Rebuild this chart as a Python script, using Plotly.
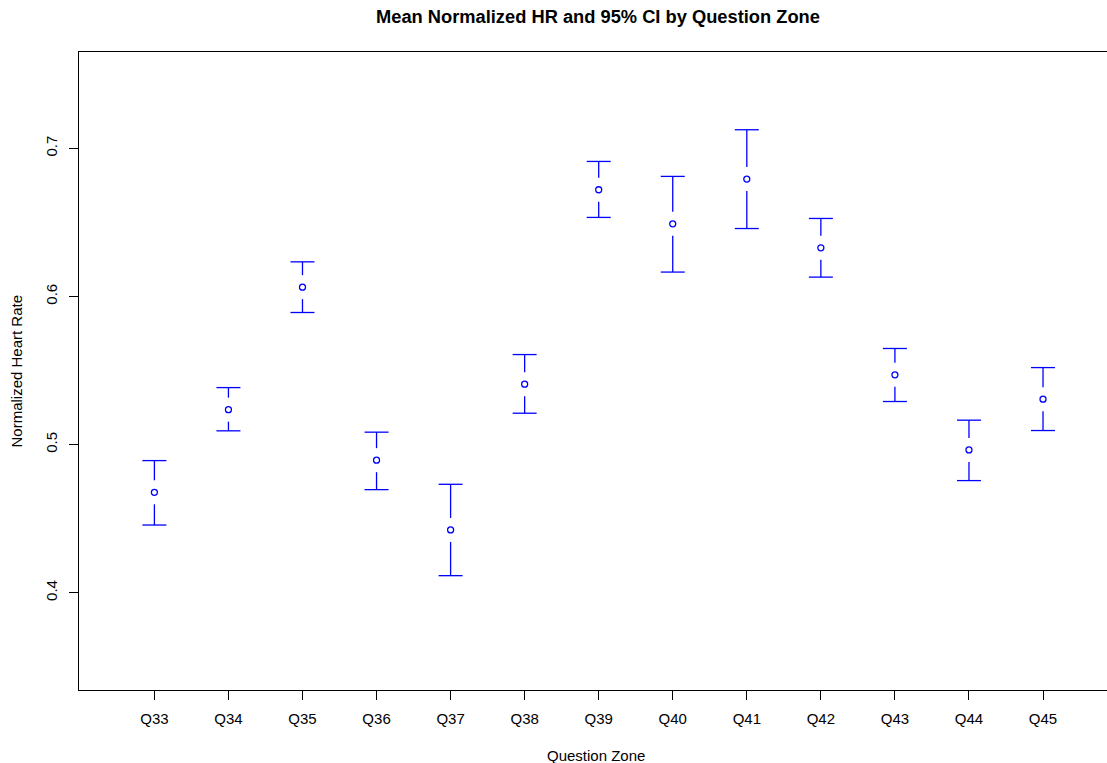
import plotly.graph_objects as go

zones = ["Q33", "Q34", "Q35", "Q36", "Q37", "Q38", "Q39", "Q40", "Q41", "Q42", "Q43", "Q44", "Q45"]
mean_hr = [0.4678, 0.5236, 0.6063, 0.4895, 0.4424, 0.5408, 0.6721, 0.6491, 0.6793, 0.6329, 0.5471, 0.4964, 0.5307]
ci_upper = [0.4892, 0.5385, 0.6234, 0.5084, 0.4732, 0.5608, 0.6912, 0.6811, 0.7126, 0.6527, 0.5649, 0.5165, 0.5520]
ci_lower = [0.4457, 0.5093, 0.5892, 0.4696, 0.4115, 0.5212, 0.6534, 0.6165, 0.6459, 0.6131, 0.5291, 0.4757, 0.5095]
y_ticks = [0.4, 0.5, 0.6, 0.7]

FONT = "Arial, Liberation Sans, sans-serif"
BLUE = "#0000FF"
GAP = 0.0081      # gap between point and CI line (data units)
CAP = 0.162       # half-width of caps (x units)

xs = list(range(len(zones)))
lx, ly = [], []
for i, x in enumerate(xs):
    m, hi, lo = mean_hr[i], ci_upper[i], ci_lower[i]
    lx += [x, x, None, x, x, None, x - CAP, x + CAP, None, x - CAP, x + CAP, None]
    ly += [lo, m - GAP, None, m + GAP, hi, None, hi, hi, None, lo, lo, None]

fig = go.Figure()
fig.add_trace(go.Scatter(x=lx, y=ly, mode="lines",
                         line=dict(color=BLUE, width=1.3),
                         hoverinfo="skip", showlegend=False))
fig.add_trace(go.Scatter(x=xs, y=mean_hr, mode="markers",
                         marker=dict(symbol="circle-open", size=6, color=BLUE,
                                     line=dict(color=BLUE, width=1.3)),
                         showlegend=False))

fig.update_layout(
    width=1107, height=763,
    margin=dict(l=79, r=0, t=52, b=73),
    paper_bgcolor="white", plot_bgcolor="white",
    font=dict(family=FONT, size=15, color="black"),
    xaxis=dict(range=[-1.018, 12.864], tickvals=xs, ticktext=zones,
               showgrid=False, zeroline=False, showline=True, mirror=True,
               linecolor="black", linewidth=1.3, ticks="outside", ticklen=9,
               tickwidth=1.3, tickcolor="black", ticklabelstandoff=6),
    yaxis=dict(range=[0.3343, 0.7651], tickvals=y_ticks,
               ticktext=[f"{v:.1f}" for v in y_ticks], tickangle=-90,
               showgrid=False, zeroline=False, showline=True, mirror=False,
               linecolor="black", linewidth=1.3, ticks="outside", ticklen=9,
               tickwidth=1.3, tickcolor="black", ticklabelstandoff=6),
    annotations=[
        dict(text="<b>Mean Normalized HR and 95% CI by Question Zone</b>",
             xref="paper", yref="paper", x=0.5044, y=1.0549,
             xanchor="center", yanchor="middle", showarrow=False,
             font=dict(family=FONT, size=18.3, color="black")),
        dict(text="Question Zone", xref="paper", yref="paper",
             x=0.5027, y=-0.103, xanchor="center", yanchor="middle",
             showarrow=False, font=dict(family=FONT, size=15, color="black")),
        dict(text="Normalized Heart Rate", xref="paper", yref="paper",
             x=-0.0608, y=0.5, xanchor="center", yanchor="middle",
             textangle=-90, showarrow=False,
             font=dict(family=FONT, size=15, color="black")),
    ],
)

fig.write_html(
    "out.html",
    config={"displayModeBar": False},
    post_script="document.body.style.margin='0';document.body.style.overflow='hidden';",
)
